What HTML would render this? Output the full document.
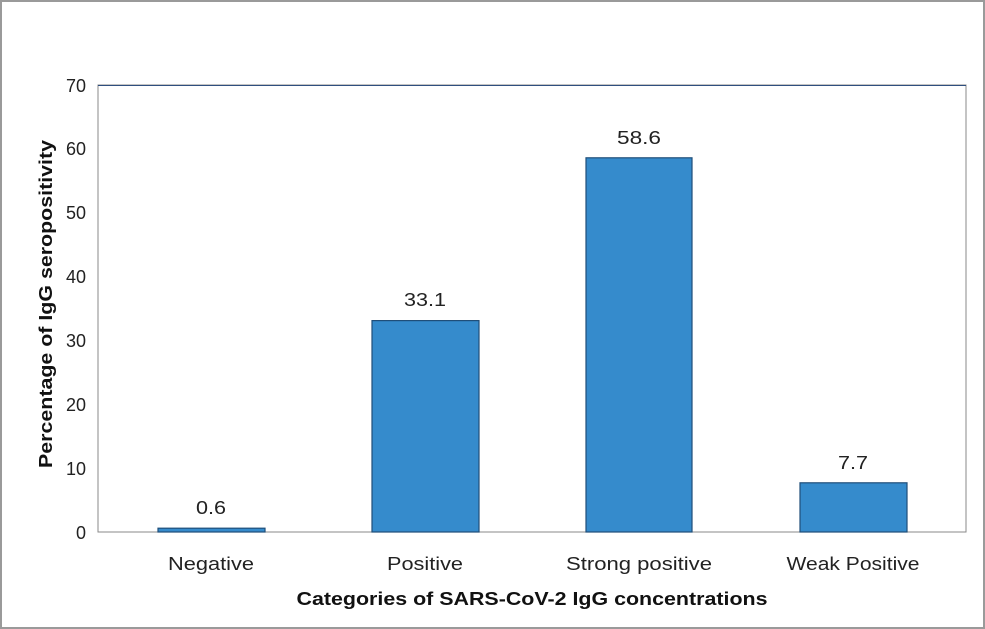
<!DOCTYPE html>
<html><head><style>
html,body{margin:0;padding:0;background:#fff;}
svg{display:block;font-family:"Liberation Sans","DejaVu Sans",sans-serif;}
</style></head><body>
<svg width="985" height="629" xmlns="http://www.w3.org/2000/svg">
<rect x="1" y="1" width="983" height="627" fill="#fff" stroke="#9a9a9a" stroke-width="2"/>
<rect x="98" y="85" width="868" height="447" fill="none" stroke="#8a8a8a" stroke-width="1"/>
<line x1="98" y1="85.5" x2="966" y2="85.5" stroke="#2f4f7f" stroke-width="1"/>
<g font-size="18" fill="#222" text-anchor="end">
<text x="86" y="539">0</text>
<text x="86" y="475">10</text>
<text x="86" y="411">20</text>
<text x="86" y="347">30</text>
<text x="86" y="283">40</text>
<text x="86" y="219">50</text>
<text x="86" y="155">60</text>
<text x="86" y="92">70</text>
</g>
<g fill="#358bcc" stroke="#1f4e79" stroke-width="1.2">
<rect x="158" y="528.2" width="107" height="3.8"/>
<rect x="372" y="320.6" width="107" height="211.4"/>
<rect x="586" y="157.8" width="106" height="374.2"/>
<rect x="800" y="482.8" width="107" height="49.2"/>
</g>
<g font-size="18" fill="#222" text-anchor="middle" lengthAdjust="spacingAndGlyphs">
<text x="211" y="514" textLength="30" lengthAdjust="spacingAndGlyphs">0.6</text>
<text x="425" y="306" textLength="42" lengthAdjust="spacingAndGlyphs">33.1</text>
<text x="639" y="144" textLength="44" lengthAdjust="spacingAndGlyphs">58.6</text>
<text x="853" y="469" textLength="30" lengthAdjust="spacingAndGlyphs">7.7</text>
<text x="211" y="570" textLength="86" lengthAdjust="spacingAndGlyphs">Negative</text>
<text x="425" y="570" textLength="76" lengthAdjust="spacingAndGlyphs">Positive</text>
<text x="639" y="570" textLength="146" lengthAdjust="spacingAndGlyphs">Strong positive</text>
<text x="853" y="570" textLength="133" lengthAdjust="spacingAndGlyphs">Weak Positive</text>
</g>
<text x="532" y="605" font-size="18" font-weight="bold" text-anchor="middle" fill="#111" textLength="471" lengthAdjust="spacingAndGlyphs">Categories of SARS-CoV-2 IgG concentrations</text>
<text transform="translate(52,304) rotate(-90)" font-size="18" font-weight="bold" text-anchor="middle" fill="#111" textLength="328" lengthAdjust="spacingAndGlyphs">Percentage of IgG seropositivity</text>
</svg>
</body></html>
